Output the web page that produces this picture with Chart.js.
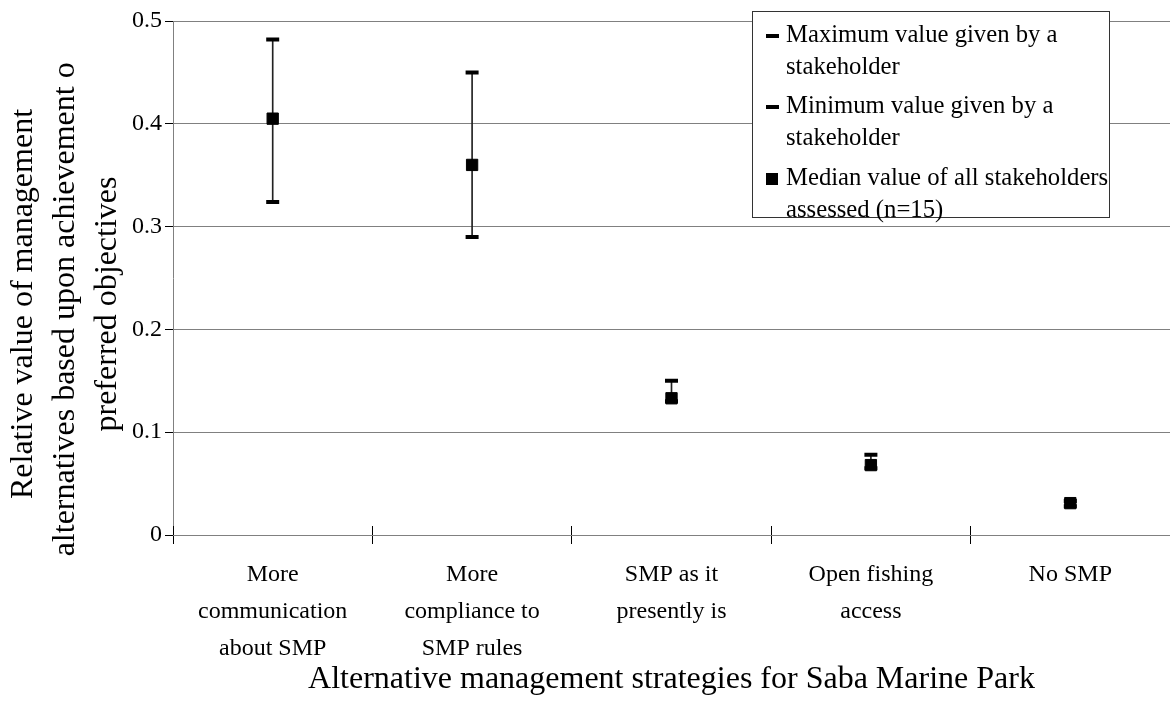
<!DOCTYPE html>
<html>
<head>
<meta charset="utf-8">
<script src="https://cdn.jsdelivr.net/npm/chart.js@4/dist/chart.umd.min.js"></script>
<style>
  body { margin: 0; background: #fff; }
  #wrap { position: relative; width: 1170px; height: 702px; }
  #legend {
    position: absolute; left: 752px; top: 11px; width: 356px; height: 205px;
    border: 1px solid #333; background: #fff; box-sizing: content-box;
    font-family: 'Liberation Serif', 'Times New Roman', serif; font-size: 24.7px; color: #000;
  }
  .item { position: absolute; left: 0; right: 0; }
  .item .txt { position: absolute; left: 33px; line-height: 32px; white-space: nowrap; }
  .dash { position: absolute; left: 13px; width: 13px; height: 4px; background: #000; }
  .sq { position: absolute; left: 13px; width: 12px; height: 12px; background: #000; }
</style>
</head>
<body>
<div id="wrap">
  <canvas id="chart" width="1170" height="702"></canvas>
  <div id="legend"></div>
</div>
<script>
// === ERROR BAR CHART: Saba Marine Park ===

const categories = [
    ['More', 'communication', 'about SMP'],
    ['More', 'compliance to', 'SMP rules'],
    ['SMP as it', 'presently is'],
    ['Open fishing', 'access'],
    ['No SMP']
];
const maxValues = [0.482, 0.450, 0.150, 0.078, 0.033];
const minValues = [0.324, 0.290, 0.130, 0.065, 0.028];
const medianValues = [0.405, 0.360, 0.133, 0.068, 0.031];
const yTicks = [0, 0.1, 0.2, 0.3, 0.4, 0.5];

const legendLabels = [
    ['Maximum value given by a', 'stakeholder'],
    ['Minimum value given by a', 'stakeholder'],
    ['Median value of all stakeholders', 'assessed (n=15)']
];
const yTitleLines = ['Relative value of management', 'alternatives based upon achievement of', 'preferred objectives'];
const xTitle = 'Alternative management strategies for Saba Marine Park';

const serif = "'Liberation Serif', 'Times New Roman', serif";

// draws the rotated y title, clipped at the top like the original text box
const yTitlePlugin = {
    id: 'yTitle',
    afterDraw(chart) {
        const ctx = chart.ctx;
        const xs = [24, 66, 108];
        ctx.save();
        ctx.beginPath();
        ctx.rect(0, 62, 170, 640);
        ctx.clip();
        ctx.font = '32px ' + serif;
        ctx.fillStyle = '#000';
        ctx.textAlign = 'center';
        ctx.textBaseline = 'middle';
        yTitleLines.forEach(function(line, i) {
            ctx.save();
            ctx.translate(xs[i], 304);
            ctx.rotate(-Math.PI / 2);
            ctx.fillText(line, 0, 0);
            ctx.restore();
        });
        ctx.restore();
    }
};

// x tick marks also cross the axis line upward
const innerTicksPlugin = {
    id: 'innerTicks',
    afterDraw(chart) {
        const ctx = chart.ctx;
        const x = chart.scales.x;
        const bottom = chart.chartArea.bottom;
        ctx.save();
        ctx.strokeStyle = '#000';
        ctx.lineWidth = 1;
        ctx.beginPath();
        for (let i = 0; i <= categories.length; i++) {
            const px = Math.round(x.getPixelForValue(i - 0.5) - 0.5) + 0.5;
            ctx.moveTo(px, bottom - 9);
            ctx.lineTo(px, bottom);
        }
        ctx.stroke();
        ctx.restore();
    }
};

new Chart(document.getElementById('chart'), {
    type: 'bar',
    data: {
        labels: categories,
        datasets: [
            {
                type: 'line',
                label: legendLabels[2].join(' '),
                data: medianValues,
                showLine: false,
                pointStyle: 'rect',
                pointRadius: 8,
                pointBorderWidth: 1,
                pointBackgroundColor: '#000',
                pointBorderColor: '#000'
            },
            {
                type: 'line',
                label: legendLabels[0].join(' '),
                data: maxValues,
                showLine: false,
                pointStyle: 'line',
                pointRadius: 6.5,
                pointBorderWidth: 4,
                pointBorderColor: '#000'
            },
            {
                type: 'line',
                label: legendLabels[1].join(' '),
                data: minValues,
                showLine: false,
                pointStyle: 'line',
                pointRadius: 6.5,
                pointBorderWidth: 4,
                pointBorderColor: '#000'
            },
            {
                label: 'range',
                data: minValues.map((v, i) => [v, maxValues[i]]),
                backgroundColor: '#222',
                barThickness: 1,
                borderWidth: 0
            }
        ]
    },
    options: {
        responsive: false,
        animation: false,
        events: [],
        layout: { autoPadding: false, padding: { top: 21, right: 0, bottom: 0, left: 0 } },
        plugins: {
            legend: { display: false },
            tooltip: { enabled: false }
        },
        scales: {
            x: {
                offset: true,
                grid: {
                    drawOnChartArea: false,
                    offset: true,
                    tickLength: 9,
                    tickColor: '#000'
                },
                border: { color: '#808080' },
                ticks: {
                    padding: 12,
                    color: '#000',
                    maxRotation: 0,
                    autoSkip: false,
                    font: { family: serif, size: 24, lineHeight: 1.55 }
                },
                title: {
                    display: true,
                    text: xTitle,
                    color: '#000',
                    padding: { top: 0, bottom: 3 },
                    font: { family: serif, size: 32, lineHeight: 1.2 }
                },
                afterFit(scale) { scale.height = 167; }
            },
            y: {
                min: 0,
                max: 0.5,
                afterBuildTicks(scale) { scale.ticks = yTicks.map(v => ({ value: v })); },
                grid: {
                    color: '#808080',
                    tickLength: 8,
                    tickColor: '#000'
                },
                border: { color: '#808080' },
                ticks: {
                    padding: 3,
                    color: '#000',
                    font: { family: serif, size: 24 },
                    callback: v => String(v)
                },
                afterFit(scale) { scale.width = 173; }
            }
        }
    },
    plugins: [yTitlePlugin, innerTicksPlugin]
});

// HTML legend box drawn over the plot like the original
const legendBox = document.getElementById('legend');
const itemTops = [6, 77, 149];
legendLabels.forEach(function(lines, i) {
    const item = document.createElement('div');
    item.className = 'item';
    item.style.top = itemTops[i] + 'px';
    const mark = document.createElement('span');
    mark.className = i < 2 ? 'dash' : 'sq';
    mark.style.top = i < 2 ? '16px' : '12px';
    item.appendChild(mark);
    lines.forEach(function(line, j) {
        const t = document.createElement('span');
        t.className = 'txt';
        t.style.top = (j * 32) + 'px';
        t.textContent = line;
        item.appendChild(t);
    });
    legendBox.appendChild(item);
});
</script>
</body>
</html>
